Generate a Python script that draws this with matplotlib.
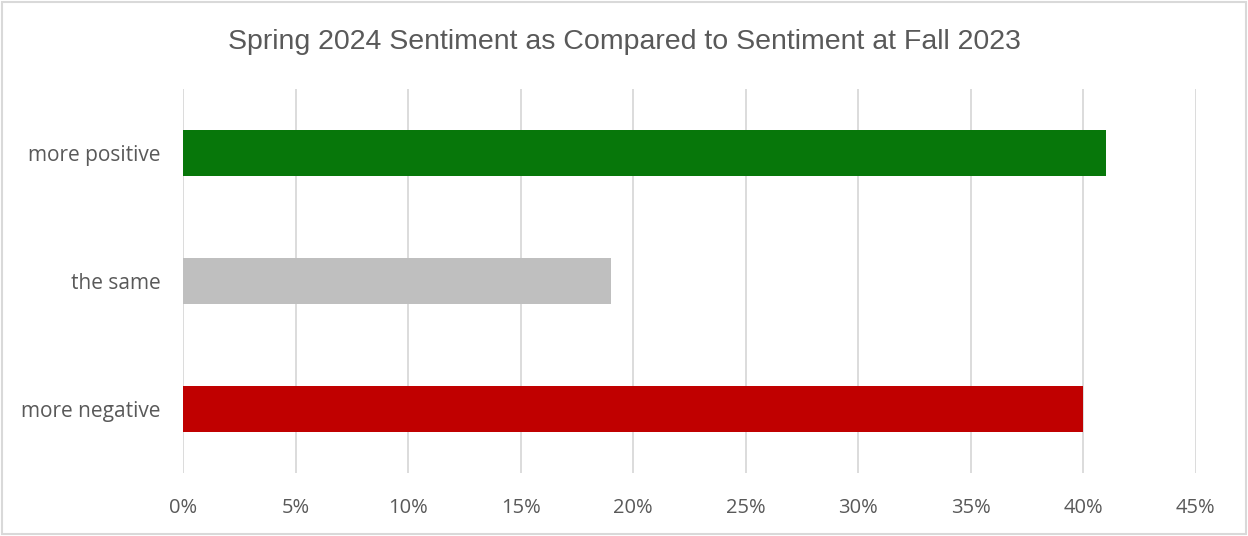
import matplotlib.pyplot as plt
from matplotlib.patches import Rectangle

categories = ["more negative", "the same", "more positive"]
values = [40, 19, 41]
colors = ["#c00000", "#bfbfbf", "#07770a"]
ticks = [0, 5, 10, 15, 20, 25, 30, 35, 40, 45]

fig = plt.figure(figsize=(12.48, 5.36), dpi=100)
ax = fig.add_axes([0.147, 0.1175, 0.811, 0.7165])

ax.barh(range(len(categories)), values, height=0.36, color=colors, zorder=3)

ax.set_xlim(0, 45)
ax.set_ylim(-0.5, 2.5)
ax.set_xticks(ticks)
ax.set_xticklabels([f"{t}%" for t in ticks], fontsize=14.5, color="#595959",
                   family="Open Sans")
ax.set_yticks(range(len(categories)))
ax.set_yticklabels(categories, fontsize=15, color="#595959", family="Open Sans")
ax.tick_params(axis="x", length=0, pad=18)
ax.tick_params(axis="y", length=0, pad=16.5)
ax.xaxis.grid(True, color="#d9d9d9", linewidth=1.3, zorder=0)
for s in ax.spines.values():
    s.set_visible(False)

fig.text(0.5, 0.922, "Spring 2024 Sentiment as Compared to Sentiment at Fall 2023",
         ha="center", va="center", fontsize=20.5, color="#595959",
         family="Liberation Sans")

# thin frame around the whole chart
fig.add_artist(Rectangle((0.002, 0.003), 0.996, 0.994, transform=fig.transFigure,
                         fill=False, edgecolor="#d9d9d9", linewidth=1.5))

fig.savefig("out.png", dpi=100)
